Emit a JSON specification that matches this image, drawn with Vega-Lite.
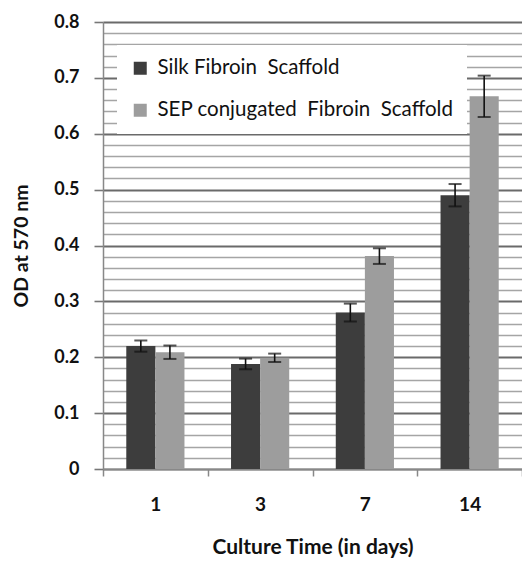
{
  "$schema": "https://vega.github.io/schema/vega-lite/v6.json",
  "width": 419,
  "height": 447,
  "autosize": "none",
  "padding": {"left": 103, "top": 22, "right": 0, "bottom": 96},
  "background": "white",
  "config": {
    "view": {"stroke": null},
    "font": "Lato"
  },
  "data": {
    "values": [
      {"day": "1", "group": "Silk Fibroin\u00a0 Scaffold", "od": 0.22, "err": 0.01},
      {"day": "1", "group": "SEP conjugated\u00a0 Fibroin\u00a0 Scaffold", "od": 0.209, "err": 0.012},
      {"day": "3", "group": "Silk Fibroin\u00a0 Scaffold", "od": 0.188, "err": 0.0095},
      {"day": "3", "group": "SEP conjugated\u00a0 Fibroin\u00a0 Scaffold", "od": 0.199, "err": 0.0075},
      {"day": "7", "group": "Silk Fibroin\u00a0 Scaffold", "od": 0.28, "err": 0.016},
      {"day": "7", "group": "SEP conjugated\u00a0 Fibroin\u00a0 Scaffold", "od": 0.381, "err": 0.014},
      {"day": "14", "group": "Silk Fibroin\u00a0 Scaffold", "od": 0.49, "err": 0.02},
      {"day": "14", "group": "SEP conjugated\u00a0 Fibroin\u00a0 Scaffold", "od": 0.667, "err": 0.037}
    ]
  },
  "transform": [
    {"calculate": "datum.od - datum.err", "as": "lo"},
    {"calculate": "datum.od + datum.err", "as": "hi"}
  ],
  "encoding": {
    "x": {
      "field": "day", "type": "nominal", "sort": ["1", "3", "7", "14"],
      "scale": {"paddingInner": 0, "paddingOuter": 0},
      "axis": {
        "title": "Culture Time (in days)",
        "labelAngle": 0,
        "labelFont": "Lato", "labelFontSize": 19, "labelFontWeight": "bold", "labelColor": "#111",
        "labelPadding": 19,
        "tickBand": "extent", "tickSize": 7, "tickColor": "#888", "tickWidth": 1.5,
        "domainColor": "#888", "domainWidth": 1.5,
        "titleFont": "Lato", "titleFontSize": 21, "titleFontWeight": "bold", "titleColor": "#111",
        "titlePadding": 22
      }
    },
    "xOffset": {
      "field": "group", "type": "nominal",
      "sort": ["Silk Fibroin\u00a0 Scaffold", "SEP conjugated\u00a0 Fibroin\u00a0 Scaffold"],
      "scale": {"paddingInner": 0, "paddingOuter": 0.8}
    }
  },
  "layer": [
    {
      "mark": {"type": "bar"},
      "encoding": {
        "y": {
          "field": "od", "type": "quantitative",
          "scale": {"domain": [0, 0.8], "nice": false},
          "axis": {
            "title": "OD at 570 nm",
            "values": [0,0.02,0.04,0.06,0.08,0.1,0.12,0.14,0.16,0.18,0.2,0.22,0.24,0.26,0.28,0.3,0.32,0.34,0.36,0.38,0.4,0.42,0.44,0.46,0.48,0.5,0.52,0.54,0.56,0.58,0.6,0.62,0.64,0.66,0.68,0.7,0.72,0.74,0.76,0.78,0.8],
            "tickCount": 100,
            "labelExpr": "abs(datum.value*10 - round(datum.value*10)) < 0.001 ? (datum.value == 0 ? '0' : format(datum.value, '.1f')) : ''",
            "labelOverlap": false,
            "labelBound": false,
            "grid": true,
            "gridColor": {"condition": {"test": "abs(datum.value*10 - round(datum.value*10)) < 0.001", "value": "#6a6a6a"}, "value": "#a5a5a5"},
            "gridWidth": {"condition": {"test": "abs(datum.value*10 - round(datum.value*10)) < 0.001", "value": 1.8}, "value": 1.3},
            "tickOpacity": {"condition": {"test": "abs(datum.value*10 - round(datum.value*10)) < 0.001", "value": 1}, "value": 0},
            "tickSize": 9, "tickColor": "#777", "tickWidth": 1.6,
            "domainColor": "#888", "domainWidth": 1.5,
            "labelFont": "Lato", "labelFontSize": 18, "labelFontWeight": "bold", "labelColor": "#111",
            "labelPadding": 15,
            "titleFont": "Lato", "titleFontSize": 19.5, "titleFontWeight": "bold", "titleColor": "#111",
            "titlePadding": 22
          }
        },
        "color": {
          "field": "group", "type": "nominal",
          "sort": ["Silk Fibroin\u00a0 Scaffold", "SEP conjugated\u00a0 Fibroin\u00a0 Scaffold"],
          "scale": {"range": ["#3d3d3d", "#9d9d9d"]},
          "legend": {
            "title": null,
            "orient": "none", "legendX": 14, "legendY": 23,
            "fillColor": "white",
            "padding": 13,
            "symbolType": "square", "symbolSize": 169, "symbolStrokeWidth": 0,
            "labelFont": "Lato", "labelFontSize": 20.5, "labelColor": "#111",
            "labelLimit": 400,
            "labelOffset": 7,
            "rowPadding": 21
          }
        }
      }
    },
    {
      "mark": {"type": "rule", "color": "#111", "strokeWidth": 1.6},
      "encoding": {
        "y": {"field": "lo", "type": "quantitative"},
        "y2": {"field": "hi"}
      }
    },
    {
      "mark": {"type": "tick", "color": "#111", "thickness": 2, "size": 13, "orient": "horizontal"},
      "encoding": {"y": {"field": "lo", "type": "quantitative"}}
    },
    {
      "mark": {"type": "tick", "color": "#111", "thickness": 2, "size": 13, "orient": "horizontal"},
      "encoding": {"y": {"field": "hi", "type": "quantitative"}}
    }
  ]
}
